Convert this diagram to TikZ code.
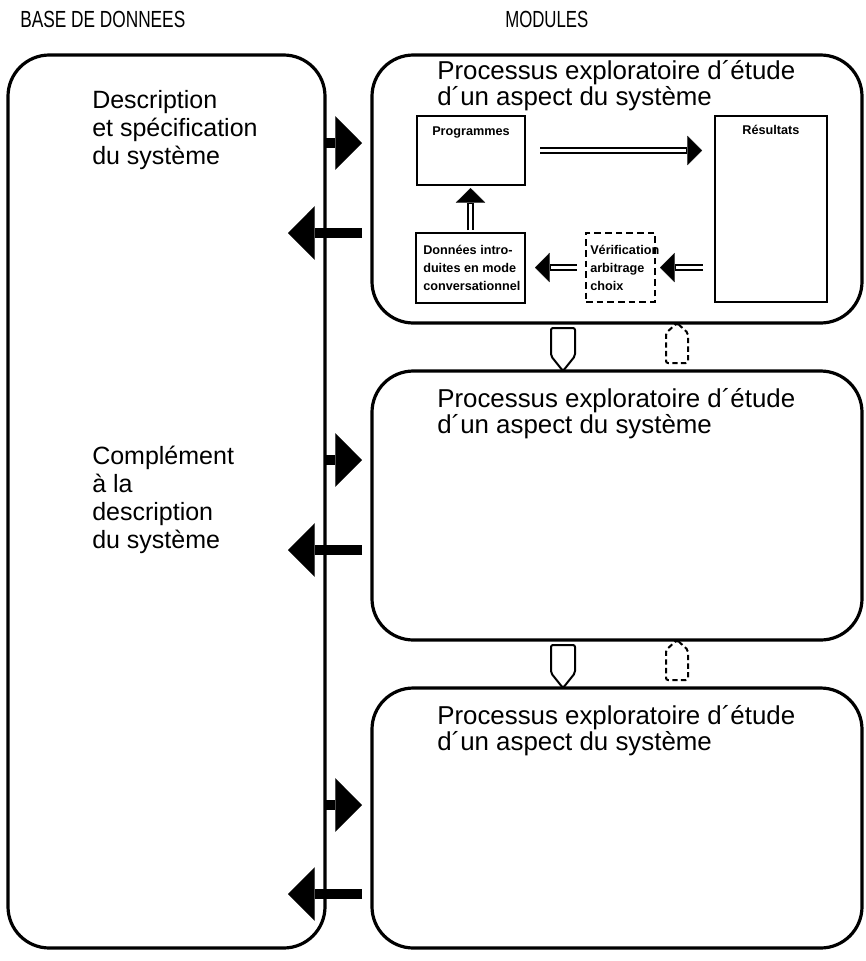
\documentclass[tikz,border=0pt]{standalone}
\usepackage{fontspec}
\setmainfont{Liberation Sans}
\usepackage{graphicx}
\usetikzlibrary{arrows.meta,calc}

% double-line arrow: thick black stroke with a white core
\newcommand\twinarrow[5][]{%
  \draw[dblblack,#1,shorten <=#4,shorten >=#5] #2 -- #3;
  \draw[dblwhite,#1,shorten <=#4,shorten >=#5+12pt] #2 -- #3;
}

\begin{document}
\begin{tikzpicture}[x=0.75pt,y=-0.75pt,
  outerbox/.style={draw, line width=2.4pt, rounded corners=31pt, inner sep=0pt, outer sep=0pt},
  innerbox/.style={draw, line width=1.6pt, inner sep=0pt, outer sep=0pt},
  dashbox/.style={draw, line width=1.5pt, dash pattern=on 5pt off 3pt, inner sep=0pt, outer sep=0pt},
  heading/.style={font=\fontsize{17.5pt}{19pt}\selectfont, inner sep=0pt, anchor=base west},
  title/.style={font=\fontsize{19.4pt}{17pt}\selectfont, align=left, inner sep=0pt, anchor=north west},
  sidetext/.style={font=\fontsize{18.75pt}{21pt}\selectfont, align=left, inner sep=0pt, anchor=north west},
  small/.style={font=\fontsize{9.5pt}{13.5pt}\selectfont\bfseries, inner sep=0pt},
  blockarrow/.style={line width=7.5pt, -{Triangle[length=20pt,width=40pt,line width=0.1pt]}},
  dblblack/.style={line width=5pt, -{Triangle[length=11pt,width=22pt,line width=0.1pt]}},
  dblwhite/.style={draw=white, line width=1.8pt},
  gate/.style={draw, line width=1.5pt, rounded corners=1.5pt},
  dashgate/.style={gate, dash pattern=on 4pt off 2.5pt},
]
\useasboundingbox (0,0) rectangle (865,961);

% column headings
\node[heading] (hb) at (20,27) {\scalebox{0.74}[1]{BASE DE DONNEES}};
\node[heading] (hm) at (505,27) {\scalebox{0.72}[1]{MODULES}};

% data base column
\node[outerbox, minimum width=237.75pt, minimum height=669.75pt] (base) at (166.5,501.5) {};
\node[sidetext] (t1) at (92,90) {Description\\et spécification\\du système};
\node[sidetext] (t2) at (92,446) {Complément\\à la\\description\\du système};

% module boxes
\node[outerbox, minimum width=367.5pt, minimum height=201pt] (m1) at (617,189) {};
\node[outerbox, minimum width=367.5pt, minimum height=201.75pt] (m2) at (617,505.5) {};
\node[outerbox, minimum width=367.5pt, minimum height=195pt] (m3) at (617,818) {};

\node[title] (ti1) at (437,60) {Processus exploratoire d´étude\\d´un aspect du système};
\node[title] (ti2) at (437,388) {Processus exploratoire d´étude\\d´un aspect du système};
\node[title] (ti3) at (437,705) {Processus exploratoire d´étude\\d´un aspect du système};

% inner loop of the first module
\node[innerbox, minimum width=81pt, minimum height=51.75pt] (prog) at (471,150.5) {};
\node[small, anchor=base] (progl) at ($(prog.north)+(0,19)$) {Programmes};
\node[innerbox, minimum width=84pt, minimum height=140pt] (res) at (771,209) {};
\node[small, anchor=base] (resl) at ($(res.north)+(0,19)$) {Résultats};
\node[innerbox, minimum width=81.75pt, minimum height=52.5pt] (don) at (470.5,268) {};
\node[small, anchor=west, align=left] (donl) at ($(don.west)+(7,0)$) {Données intro-\\duites en mode\\conversationnel};
\node[dashbox, minimum width=51.75pt, minimum height=51.75pt] (ver) at (620.5,267.5) {};
\node[small, anchor=west, align=left] (verl) at ($(ver.west)+(4,0)$) {Vérification\\arbitrage\\choix};

\twinarrow{(prog.east)}{(res.west |- prog.east)}{11.25pt}{9.75pt}
\twinarrow{(don.north)}{(don.north |- prog.south)}{2.25pt}{2.25pt}
\twinarrow{(ver.west)}{(don.east |- ver.west)}{6.75pt}{7.5pt}
\twinarrow{(res.west |- ver.east)}{(ver.east)}{9pt}{3.75pt}

% exchanges between the data base and the modules
\draw[blockarrow, shorten >=7.5pt] (base.east |- 0,143) -- (m1.west |- 0,143);
\draw[blockarrow, shorten <=7.5pt] (m1.west |- 0,233) -- ++(-84,0);
\draw[blockarrow, shorten >=7.5pt] (base.east |- 0,460) -- (m2.west |- 0,460);
\draw[blockarrow, shorten <=7.5pt] (m2.west |- 0,550) -- ++(-84,0);
\draw[blockarrow, shorten >=7.5pt] (base.east |- 0,805) -- (m3.west |- 0,805);
\draw[blockarrow, shorten <=7.5pt] (m3.west |- 0,894) -- ++(-84,0);

% links between successive modules
\coordinate (g1) at ($(m1.south)+(-54,0)$);
\coordinate (h1) at ($(m1.south)+(60,0)$);
\coordinate (g2) at ($(m2.south)+(-54,0)$);
\coordinate (h2) at ($(m2.south)+(60,0)$);
\draw[gate] ($(g1)+(-12,5)$) -- ($(g1)+(-12,33)$) -- (g1 |- m2.north) -- ($(g1)+(12,33)$) -- ($(g1)+(12,5)$) -- cycle;
\draw[dashgate] (h1) -- ($(h1)+(11,10)$) -- ($(h1)+(11,40)$) -- ($(h1)+(-11,40)$) -- ($(h1)+(-11,10)$) -- cycle;
\draw[gate] ($(g2)+(-12,5)$) -- ($(g2)+(-12,33)$) -- (g2 |- m3.north) -- ($(g2)+(12,33)$) -- ($(g2)+(12,5)$) -- cycle;
\draw[dashgate] (h2) -- ($(h2)+(11,10)$) -- ($(h2)+(11,40)$) -- ($(h2)+(-11,40)$) -- ($(h2)+(-11,10)$) -- cycle;
\end{tikzpicture}
\end{document}
